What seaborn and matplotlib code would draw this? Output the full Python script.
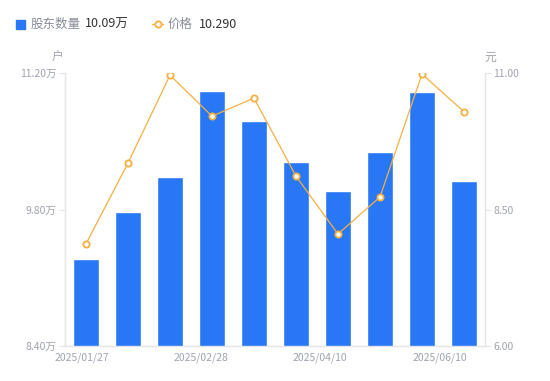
import numpy as np
import pandas as pd
import matplotlib
matplotlib.use("Agg")
import matplotlib.pyplot as plt
import seaborn as sns

sns.set_theme(style="white")
plt.rcParams['font.family'] = ['Noto Sans CJK SC', 'DejaVu Sans']

# --- data ---
dates = ["2025/01/27", "2025/02/10", "2025/02/20", "2025/02/28", "2025/03/10",
         "2025/03/20", "2025/04/10", "2025/04/30", "2025/05/20", "2025/06/10"]
holders = [9.29, 9.77, 10.13, 11.02, 10.71, 10.29, 9.99, 10.39, 11.01, 10.09]   # 万户
price = [7.87, 9.35, 10.96, 10.21, 10.54, 9.11, 8.05, 8.73, 10.98, 10.29]       # 元
tick_labels = ["2025/01/27", "2025/02/28", "2025/04/10", "2025/06/10"]

BLUE = "#2878F5"
ORANGE = "#F5B041"
GREY = "#A0A3AE"
AXIS = "#E3E5EA"

df = pd.DataFrame({"date": dates, "holders": holders, "price": price, "pos": np.arange(len(dates))})

fig = plt.figure(figsize=(5.5, 3.81), dpi=100)
ax = fig.add_axes([65 / 550, 1 - 346 / 381, 420 / 550, 273 / 381])

sns.barplot(data=df, x="date", y="holders", color=BLUE, width=0.6, saturation=1, ax=ax)
ax.set_ylim(8.40, 11.20)
ax.set_xlim(-0.5, len(dates) - 0.5)
ax.set_yticks([8.40, 9.80, 11.20])
ax.set_yticklabels([f"{v:.2f}万" for v in [8.40, 9.80, 11.20]])
ax.set_xticks([-0.1, 2.74, 5.57, 8.43])
ax.set_xticklabels(tick_labels)
ax.set_xlabel("")
ax.set_ylabel("")

ax2 = ax.twinx()
sns.lineplot(data=df, x="pos", y="price", color=ORANGE, linewidth=0.9, marker="o",
             markersize=4.5, markerfacecolor="white", markeredgecolor=ORANGE,
             markeredgewidth=1.3, ax=ax2)
ax2.set_ylim(6.00, 11.00)
ax2.set_yticks([6.00, 8.50, 11.00])
ax2.set_yticklabels([f"{v:.2f}" for v in [6.00, 8.50, 11.00]])
ax2.set_xlabel("")
ax2.set_ylabel("")

for a in (ax, ax2):
    for s in a.spines.values():
        s.set_visible(False)
    a.grid(False)

ax.spines["left"].set_visible(True)
ax.spines["bottom"].set_visible(True)
ax2.spines["right"].set_visible(True)
for s in (ax.spines["left"], ax.spines["bottom"], ax2.spines["right"]):
    s.set_color(AXIS)
    s.set_linewidth(1)

ax.tick_params(axis="y", colors=GREY, labelsize=7.5, length=4, width=0.8, pad=2)
ax.tick_params(axis="y", color=AXIS)
ax.tick_params(axis="x", colors=GREY, labelsize=7.5, length=0, pad=5)
ax2.tick_params(axis="y", colors=GREY, labelsize=7.5, length=4, width=0.8, pad=2)
ax2.tick_params(axis="y", color=AXIS)

# unit labels
fig.text(58 / 550, 1 - 57 / 381, "户", color=GREY, fontsize=8.5, ha="center", va="center")
fig.text(490 / 550, 1 - 57 / 381, "元", color=GREY, fontsize=8.5, ha="center", va="center")

# legend header
ly = 1 - 24 / 381
fig.patches.append(plt.Rectangle((16 / 550, 1 - 29 / 381), 9 / 550, 9 / 381,
                                 transform=fig.transFigure, color=BLUE))
fig.text(31 / 550, ly, "股东数量", color="#8A8D99", fontsize=9, va="center")
fig.text(85 / 550, ly, f"{holders[-1]:.2f}万", color="#333333", fontsize=9, va="center")
fig.lines.append(plt.Line2D([152 / 550, 163 / 550], [ly, ly], transform=fig.transFigure,
                            color=ORANGE, linewidth=1))
fig.lines.append(plt.Line2D([157.5 / 550], [ly], transform=fig.transFigure, marker="o",
                            markersize=4.5, markerfacecolor="white", markeredgecolor=ORANGE,
                            markeredgewidth=1.3))
fig.text(168 / 550, ly, "价格", color="#8A8D99", fontsize=9, va="center")
fig.text(199 / 550, ly, f"{price[-1]:.3f}", color="#333333", fontsize=9, va="center")

fig.savefig("out.png", dpi=100)
